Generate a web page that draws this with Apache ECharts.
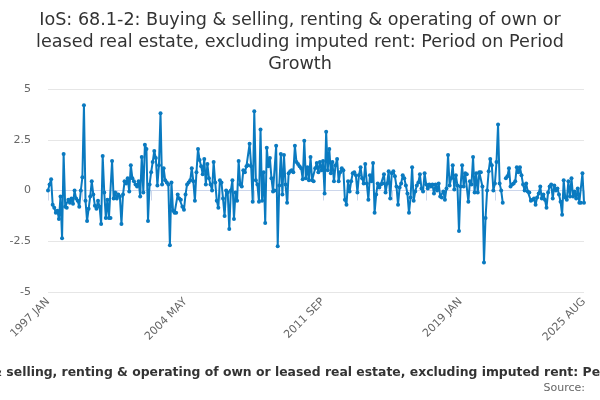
<!DOCTYPE html>
<html lang="en">
<head>
<meta charset="UTF-8" />
<title>IoS 68.1-2 period on period growth</title>
<script src="https://cdn.jsdelivr.net/npm/echarts@6/dist/echarts.min.js"></script>
<style>
  html, body { margin: 0; padding: 0; background: #fff; }
  #main { width: 600px; height: 400px; }
</style>
</head>
<body>
<div id="main"></div>
<script type="text/javascript">
// monthly series, 1997 JAN .. 2025 AUG
var startYear = 1997;
var monthNames = ['JAN', 'FEB', 'MAR', 'APR', 'MAY', 'JUN', 'JUL', 'AUG', 'SEP', 'OCT', 'NOV', 'DEC'];
var seriesName = 'IoS: 68.1-2: Buying & selling, renting & operating of own or leased real estate, excluding imputed rent: Period on Period Growth';
var yTicks = [-5, -2.5, 0, 2.5, 5];

var growth = [
  // 1997
  0.0, 0.3, 0.55, -0.7, -0.85, -1.1, -1.0, -1.4, -0.3, -2.35, 1.8, -0.8,
  // 1998
  -0.85, -0.45, -0.6, -0.4, -0.65, 0.0, -0.4, -0.5, -0.8, 0.0, 0.65, 4.2,
  // 1999
  -0.5, -1.5, -0.9, -0.3, 0.45, -0.2, -0.75, -0.9, -0.5, -0.8, -1.65, 1.7,
  // 2000
  -0.1, -1.35, -0.45, -1.35, -1.35, 1.45, -0.4, -0.1, -0.4, -0.2, -0.3, -1.65,
  // 2001
  -0.2, 0.45, 0.35, 0.6, -0.05, 1.25, 0.6, 0.45, 0.3, 0.2, 0.45, -0.3,
  // 2002
  1.65, -0.1, 2.25, 2.05, -1.5, 0.3, 0.9, 1.4, 1.95, 1.6, 0.25, 1.25,
  // 2003
  3.8, 0.3, 1.1, 0.5, 0.4, 0.3, -2.7, 0.4, -1.0, -1.1, -1.1, -0.2,
  // 2004
  -0.4, -0.45, -0.8, -0.95, -0.2, 0.3, 0.4, 0.5, 1.1, 0.45, -0.5, 0.9,
  // 2005
  2.05, 1.5, 1.2, 0.8, 1.55, 0.3, 1.3, 0.6, 0.3, 0.0, 1.4, 0.4,
  // 2006
  -0.5, -0.85, 0.5, 0.4, -0.4, -1.25, 0.0, -0.1, -1.9, 0.0, 0.5, -1.4,
  // 2007
  -0.1, -0.5, 1.45, 0.3, 0.2, 1.0, 0.9, 1.2, 1.25, 2.3, 1.2, -0.55,
  // 2008
  3.9, 0.5, 0.3, -0.55, 3.0, -0.5, 0.9, -1.6, 2.1, 1.2, 1.6, 0.6,
  // 2009
  -0.05, 0.0, 2.2, -2.75, 0.25, 1.8, -0.2, 1.75, 0.3, -0.6, 0.85, 0.95,
  // 2010
  1.0, 0.9, 2.2, 1.4, 1.3, 1.2, 1.1, 0.55, 2.45, 0.6, 1.15, 0.5,
  // 2011
  1.65, 0.5, 0.45, 1.1, 1.35, 0.9, 1.4, 1.0, 1.45, -0.15, 2.9, 1.0,
  // 2012
  2.05, 0.85, 1.4, 0.45, 1.25, 1.55, 0.45, 0.9, 1.1, 1.0, -0.45, -0.7,
  // 2013
  0.45, -0.05, 0.45, 0.85, 0.9, 0.75, -0.1, 0.75, 1.15, 0.6, 0.35, 1.3,
  // 2014
  0.35, -0.45, 0.75, 0.45, 1.35, -1.1, -0.2, 0.35, 0.15, 0.3, 0.35, 0.8,
  // 2015
  -0.1, 0.35, 0.95, -0.4, 0.85, 0.95, 0.7, 0.2, -0.7, 0.15, 0.35, 0.75,
  // 2016
  0.6, 0.25, -0.15, -1.1, -0.35, 1.15, -0.5, -0.05, 0.25, 0.4, 0.8, 0.1,
  // 2017
  -0.05, 0.85, 0.3, 0.1, 0.3, 0.2, 0.3, -0.15, 0.3, 0.0, 0.35, -0.3,
  // 2018
  -0.35, -0.05, -0.45, 0.1, 1.75, 0.25, 0.6, 1.25, 0.05, 0.75, 0.25, -2.0,
  // 2019
  0.2, 1.25, 0.2, 0.85, 0.8, -0.55, 0.45, 0.3, 1.65, -0.1, 0.85, -0.1,
  // 2020
  0.9, 0.9, 0.2, -3.55, -1.35, 0.0, 0.95, 1.55, 1.25, 0.0, 0.35, 1.4,
  // 2021
  3.25, 0.35, 0.0, -0.6, null, 0.6, 0.7, 1.1, 0.2, 0.3, 0.35, 0.45,
  // 2022
  1.15, 0.9, 1.15, 0.75, 0.3, 0.0, 0.35, -0.05, -0.1, -0.5, -0.45, -0.4,
  // 2023
  -0.7, -0.35, -0.15, 0.2, -0.4, -0.2, -0.45, -0.85, -0.1, 0.2, 0.3, -0.4,
  // 2024
  0.25, 0.0, 0.1, -0.2, -0.55, -1.2, 0.5, -0.35, -0.45, 0.45, -0.3, 0.6,
  // 2025
  -0.3, -0.05, -0.4, 0.1, -0.6, -0.6, 0.85, -0.6
];

var categories = [];
for (var k = 0; k < growth.length; k++) {
  categories.push((startYear + Math.floor(k / 12)) + ' ' + monthNames[k % 12]);
}
var lastIndex = categories.length - 1;

var myChart = echarts.init(document.getElementById('main'));

var option = {
  backgroundColor: '#ffffff',
  animation: false,
  title: {
    text: 'IoS: 68.1-2: Buying & selling, renting & operating of own or\nleased real estate, excluding imputed rent: Period on Period\nGrowth',
    left: 'center',
    top: 4,
    textStyle: {
      fontFamily: 'DejaVu Sans',
      fontSize: 17.6,
      fontWeight: 'normal',
      color: '#333333',
      lineHeight: 22
    }
  },
  grid: {
    left: 48,
    right: 16,
    top: 89,
    bottom: 108,
    containLabel: false
  },
  xAxis: {
    type: 'category',
    data: categories,
    boundaryGap: false,
    axisLine: { lineStyle: { color: '#ccd6eb', width: 1 } },
    axisTick: {
      length: 10,
      lineStyle: { color: '#ccd6eb' },
      interval: function (index) { return index % 22 === 0 || index === lastIndex; }
    },
    axisLabel: {
      rotate: 45,
      color: '#666666',
      fontFamily: 'DejaVu Sans',
      fontSize: 11,
      margin: 8,
      interval: function (index) { return index % 88 === 0 || index === lastIndex; }
    },
    splitLine: { show: false }
  },
  yAxis: {
    type: 'value',
    min: yTicks[0],
    max: yTicks[yTicks.length - 1],
    interval: 2.5,
    axisLine: { show: false },
    axisTick: { show: false },
    axisLabel: {
      color: '#666666',
      fontFamily: 'DejaVu Sans',
      fontSize: 11,
      margin: 17
    },
    splitLine: { lineStyle: { color: '#e6e6e6', width: 1 } }
  },
  series: [{
    name: seriesName,
    type: 'line',
    data: growth,
    connectNulls: false,
    symbol: 'circle',
    symbolSize: 4,
    showAllSymbol: true,
    itemStyle: { color: '#0a7ac0' },
    lineStyle: { color: '#0a7ac0', width: 2 }
  }],
  graphic: [{
    type: 'text',
    x: 304,
    y: 367,
    style: {
      text: seriesName,
      textAlign: 'center',
      fontFamily: 'DejaVu Sans',
      fontSize: 12.4,
      fontWeight: 'bold',
      fill: '#333333'
    }
  }, {
    type: 'text',
    right: 15,
    top: 383,
    style: {
      text: 'Source:',
      fontFamily: 'DejaVu Sans',
      fontSize: 11,
      fill: '#666666'
    }
  }]
};

myChart.setOption(option);
</script>
</body>
</html>
